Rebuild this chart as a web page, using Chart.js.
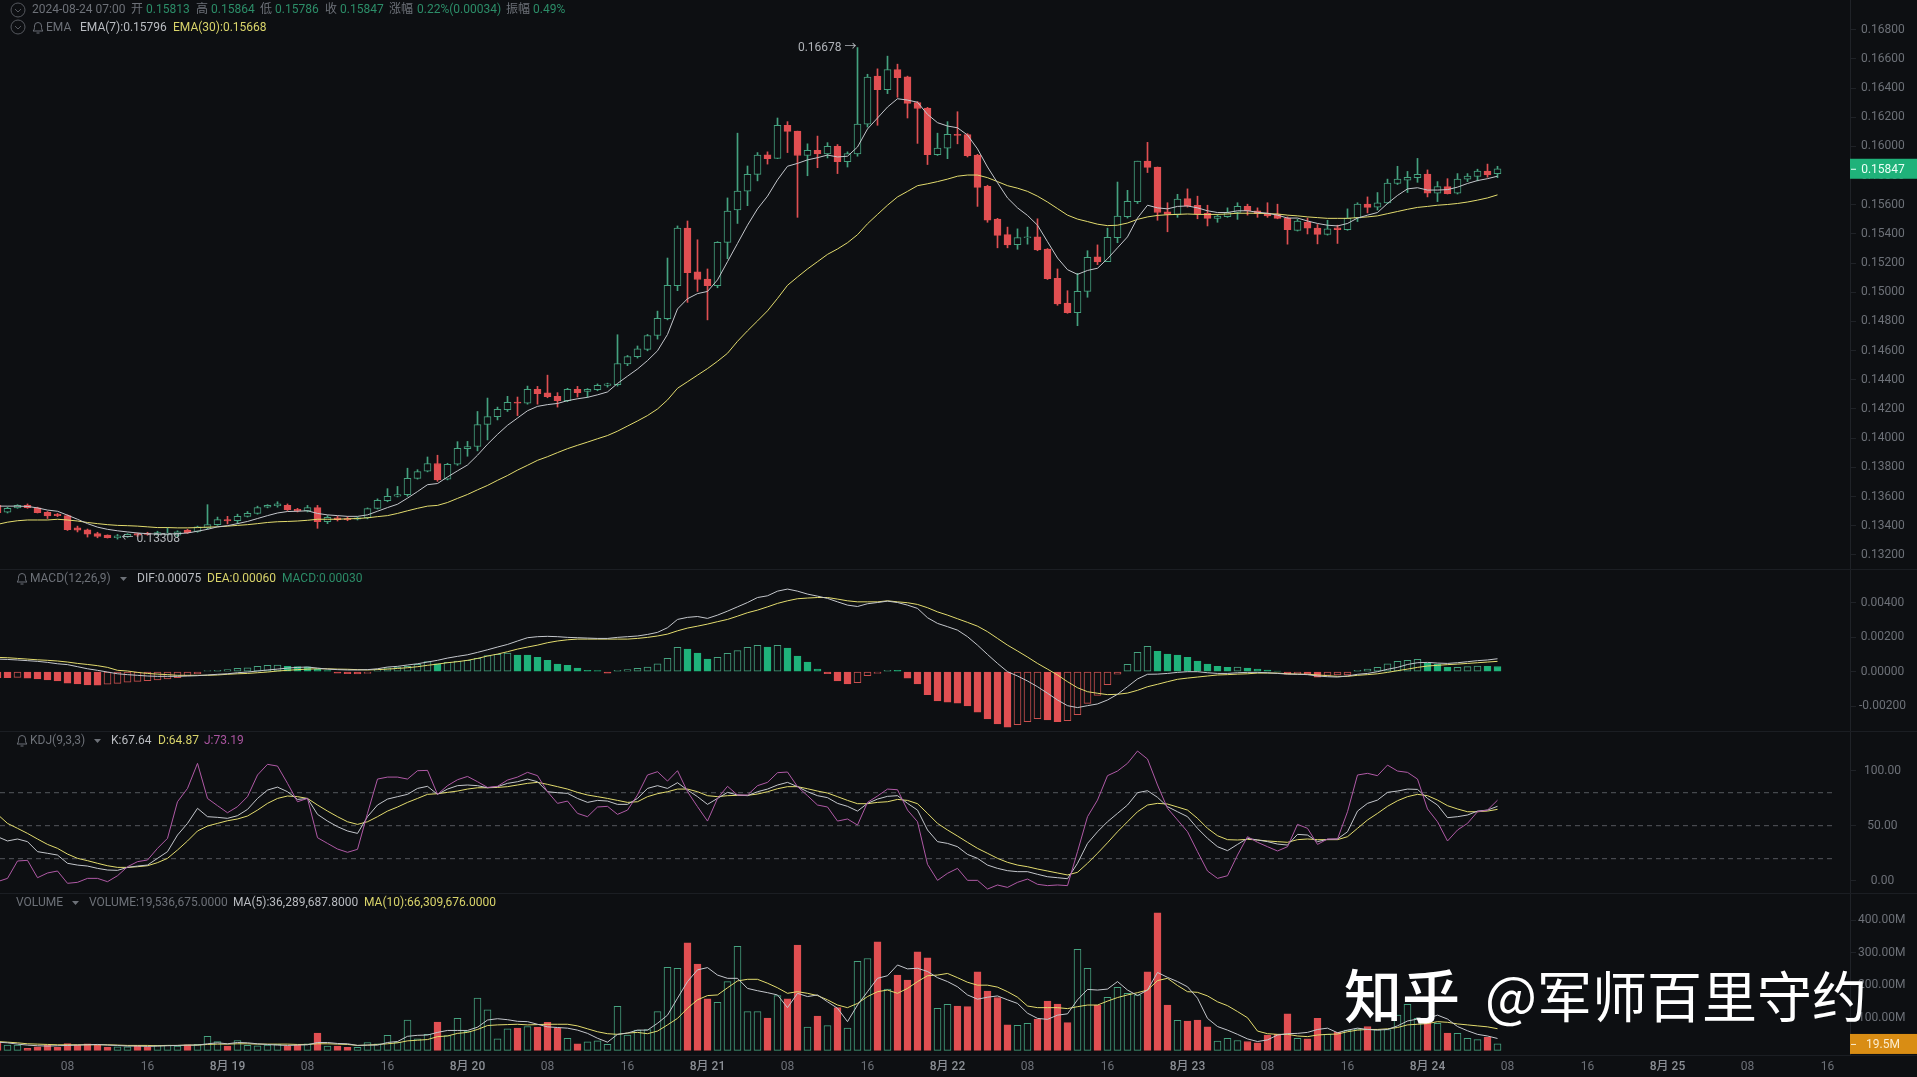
<!DOCTYPE html>
<html>
<head>
<meta charset="utf-8">
<title>K线</title>
<script src="https://cdn.jsdelivr.net/npm/chart.js@4"></script>
<style>
  html, body { margin: 0; background: #0d0f12; overflow: hidden; }
  #page { position: relative; width: 1917px; height: 1077px; font: 12px Roboto, "Noto Sans CJK SC", sans-serif; color: #6d7178; }
  canvas { position: absolute; left: 0; }
  .sep { position: absolute; left: 0; width: 1917px; height: 1px; background: #1b1e23; }
  .t { position: absolute; white-space: nowrap; line-height: 14px; }
  .g { color: #2c8d68; }
  .w { color: #b9bcc1; }
  .y { color: #d9d46a; }
  .p { color: #a9549f; }
  svg { position: absolute; }
  .mark { position: absolute; font-family: "Noto Sans CJK SC", sans-serif; line-height: 76px; color: #fff; white-space: nowrap; z-index: 5; }
</style>
</head>
<body>
<div id="page">
  <canvas id="mainChart" width="1917" height="569" style="top:0"></canvas>
  <canvas id="macdChart" width="1917" height="161" style="top:570px"></canvas>
  <canvas id="kdjChart" width="1917" height="161" style="top:732px"></canvas>
  <canvas id="volChart" width="1917" height="183" style="top:894px"></canvas>
  <div class="sep" style="top:569px"></div>
  <div class="sep" style="top:731px"></div>
  <div class="sep" style="top:893px"></div>
  <div class="sep" style="top:1055px"></div>

  <svg style="left:10px;top:2px" width="16" height="16"><circle cx="8" cy="8" r="7" fill="none" stroke="#55585e"/><path d="M5 7l3 3 3-3" fill="none" stroke="#55585e"/></svg>
  <svg style="left:10px;top:19px" width="16" height="16"><circle cx="8" cy="8" r="7" fill="none" stroke="#55585e"/><path d="M5 7l3 3 3-3" fill="none" stroke="#55585e"/></svg>
  <span class="t" style="left:32px;top:2px">2024-08-24 07:00</span>
  <span class="t" style="left:131px;top:2px">开</span><span class="t g" style="left:146px;top:2px">0.15813</span>
  <span class="t" style="left:196px;top:2px">高</span><span class="t g" style="left:211px;top:2px">0.15864</span>
  <span class="t" style="left:260px;top:2px">低</span><span class="t g" style="left:275px;top:2px">0.15786</span>
  <span class="t" style="left:325px;top:2px">收</span><span class="t g" style="left:340px;top:2px">0.15847</span>
  <span class="t" style="left:389px;top:2px">涨幅</span><span class="t g" style="left:417px;top:2px">0.22%(0.00034)</span>
  <span class="t" style="left:506px;top:2px">振幅</span><span class="t g" style="left:533px;top:2px">0.49%</span>

  <svg style="left:31px;top:20px" width="14" height="14"><path d="M2 11c1.5-1 1.5-3 1.5-5a3.5 3.5 0 0 1 7 0c0 2 0 4 1.5 5zM5.5 13h3" fill="none" stroke="#6d7178"/></svg>
  <span class="t" style="left:46px;top:20px">EMA</span>
  <span class="t w" style="left:80px;top:20px">EMA(7):0.15796</span>
  <span class="t y" style="left:173px;top:20px">EMA(30):0.15668</span>

  <svg style="left:15px;top:571px" width="14" height="14"><path d="M2 11c1.5-1 1.5-3 1.5-5a3.5 3.5 0 0 1 7 0c0 2 0 4 1.5 5zM5.5 13h3" fill="none" stroke="#6d7178"/></svg>
  <span class="t" style="left:30px;top:571px">MACD(12,26,9)</span>
  <svg style="left:120px;top:576px" width="8" height="6"><path d="M0 1h7l-3.5 4z" fill="#6d7178"/></svg>
  <span class="t w" style="left:137px;top:571px">DIF:0.00075</span>
  <span class="t y" style="left:207px;top:571px">DEA:0.00060</span>
  <span class="t g" style="left:282px;top:571px">MACD:0.00030</span>

  <svg style="left:15px;top:733px" width="14" height="14"><path d="M2 11c1.5-1 1.5-3 1.5-5a3.5 3.5 0 0 1 7 0c0 2 0 4 1.5 5zM5.5 13h3" fill="none" stroke="#6d7178"/></svg>
  <span class="t" style="left:30px;top:733px">KDJ(9,3,3)</span>
  <svg style="left:94px;top:738px" width="8" height="6"><path d="M0 1h7l-3.5 4z" fill="#6d7178"/></svg>
  <span class="t w" style="left:111px;top:733px">K:67.64</span>
  <span class="t y" style="left:158px;top:733px">D:64.87</span>
  <span class="t p" style="left:204px;top:733px">J:73.19</span>

  <span class="t" style="left:16px;top:895px">VOLUME</span>
  <svg style="left:72px;top:900px" width="8" height="6"><path d="M0 1h7l-3.5 4z" fill="#6d7178"/></svg>
  <span class="t" style="left:89px;top:895px">VOLUME:19,536,675.0000</span>
  <span class="t w" style="left:233px;top:895px">MA(5):36,289,687.8000</span>
  <span class="t y" style="left:364px;top:895px">MA(10):66,309,676.0000</span>

  <div class="mark" style="left:1344px;top:955px;font-size:58px;font-weight:500">知乎</div>
  <div class="mark" style="left:1485px;top:955px;font-size:55px;font-weight:400">@军师百里守约</div>
</div>

<script>
// candles, one per hour, starting 2024-08-18 01:00
const opens = [
  .13539,.13492,.13522,.13539,.13522,.13492,.13479,.13469,.13385,.13372,
  .13345,.13335,.13317,.13325,.13345,.13350,.13340,.13340,.13335,.13370,
  .13360,.13385,.13407,.13442,.13434,.13464,.13484,.13527,.13537,.13539,
  .13512,.13502,.13524,.13427,.13454,.13449,.13444,.13454,.13519,.13572,
  .13602,.13612,.13724,.13774,.13826,.13719,.13821,.13928,.13943,.14095,
  .14148,.14195,.14247,.14240,.14335,.14310,.14287,.14257,.14335,.14320,
  .14332,.14362,.14367,.14509,.14559,.14609,.14704,.14819,.15046,.15440,
  .15140,.15090,.15046,.15342,.15564,.15694,.15809,.15943,.15918,.16145,
  .16105,.15938,.15973,.15948,.16001,.15896,.15948,.16153,.16482,.16390,
  .16527,.16477,.16300,.16263,.15943,.15988,.16083,.16081,.15941,.15726,
  .15502,.15395,.15327,.15375,.15380,.15297,.15095,.14926,.14861,.15006,
  .15243,.15210,.15375,.15519,.15622,.15899,.15859,.15552,.15534,.15642,
  .15597,.15542,.15507,.15519,.15547,.15589,.15559,.15544,.15534,.15509,
  .15425,.15480,.15440,.15397,.15442,.15430,.15509,.15604,.15584,.15612,
  .15746,.15769,.15786,.15811,.15679,.15724,.15679,.15776,.15794,.15831,.15813
];
const highs = [
  .13544,.13527,.13544,.13549,.13527,.13497,.13484,.13474,.13397,.13377,
  .13355,.13337,.13340,.13345,.13350,.13355,.13362,.13385,.13365,.13375,
  .13397,.13544,.13459,.13464,.13479,.13497,.13534,.13544,.13564,.13549,
  .13519,.13539,.13539,.13469,.13464,.13462,.13459,.13522,.13584,.13654,
  .13669,.13794,.13784,.13871,.13883,.13828,.13976,.13978,.14183,.14275,
  .14213,.14287,.14282,.14357,.14355,.14432,.14312,.14342,.14355,.14340,
  .14372,.14377,.14709,.14567,.14632,.14711,.14871,.15235,.15455,.15489,
  .15360,.15160,.15347,.15647,.16091,.15866,.15958,.15963,.16195,.16170,
  .16105,.16018,.16071,.16026,.16013,.15963,.16678,.16495,.16532,.16619,
  .16564,.16482,.16308,.16268,.16091,.16170,.16238,.16088,.15946,.15734,
  .15507,.15447,.15435,.15447,.15504,.15300,.15160,.15011,.15130,.15285,
  .15325,.15440,.15756,.15699,.15899,.16028,.15859,.15614,.15672,.15709,
  .15659,.15597,.15534,.15579,.15614,.15604,.15579,.15614,.15604,.15517,
  .15500,.15509,.15465,.15494,.15460,.15572,.15614,.15654,.15684,.15776,
  .15864,.15829,.15918,.15839,.15759,.15779,.15814,.15814,.15844,.15879,.15864
];
const lows = [
  .13487,.13487,.13519,.13519,.13487,.13449,.13462,.13367,.13357,.13322,
  .13317,.13315,.13308,.13320,.13325,.13335,.13335,.13335,.13325,.13347,
  .13355,.13377,.13402,.13412,.13414,.13459,.13479,.13522,.13527,.13504,
  .13494,.13494,.13382,.13414,.13432,.13434,.13439,.13447,.13514,.13564,
  .13597,.13602,.13719,.13769,.13704,.13714,.13814,.13876,.13913,.13988,
  .14125,.14183,.14155,.14233,.14233,.14277,.14213,.14250,.14282,.14280,
  .14325,.14350,.14357,.14497,.14549,.14599,.14679,.14811,.15011,.14931,
  .15006,.14811,.15031,.15230,.15472,.15594,.15764,.15879,.15916,.15958,
  .15514,.15799,.15854,.15921,.15814,.15859,.15933,.16133,.16145,.16362,
  .16337,.16195,.16021,.15876,.15938,.15916,.16018,.15928,.15589,.15480,
  .15305,.15305,.15295,.15330,.15285,.15088,.14911,.14856,.14771,.14966,
  .15190,.15210,.15340,.15509,.15609,.15821,.15494,.15415,.15514,.15584,
  .15504,.15455,.15480,.15514,.15500,.15529,.15514,.15514,.15504,.15330,
  .15420,.15400,.15332,.15392,.15335,.15425,.15485,.15544,.15564,.15607,
  .15739,.15684,.15754,.15654,.15622,.15674,.15674,.15759,.15764,.15789,.15786
];
const closes = [
  .13489,.13519,.13539,.13524,.13489,.13467,.13469,.13372,.13370,.13342,
  .13327,.13317,.13330,.13340,.13335,.13340,.13352,.13350,.13357,.13352,
  .13392,.13407,.13442,.13432,.13464,.13484,.13524,.13539,.13549,.13509,
  .13502,.13524,.13427,.13457,.13442,.13442,.13454,.13517,.13574,.13602,
  .13614,.13724,.13771,.13826,.13714,.13821,.13931,.13943,.14093,.14148,
  .14198,.14245,.14240,.14335,.14305,.14285,.14257,.14335,.14312,.14335,
  .14362,.14372,.14512,.14559,.14612,.14704,.14821,.15048,.15440,.15135,
  .15088,.15046,.15342,.15557,.15694,.15809,.15941,.15916,.16145,.16103,
  .15938,.15973,.15948,.16001,.15896,.15951,.16153,.16475,.16390,.16527,
  .16472,.16295,.16260,.15943,.15988,.16083,.16076,.15936,.15719,.15494,
  .15390,.15325,.15375,.15380,.15290,.15093,.14921,.14861,.15006,.15240,
  .15208,.15377,.15522,.15624,.15899,.15856,.15547,.15534,.15639,.15592,
  .15539,.15507,.15522,.15547,.15589,.15559,.15539,.15524,.15507,.15430,
  .15489,.15440,.15397,.15435,.15430,.15509,.15604,.15582,.15614,.15749,
  .15776,.15789,.15809,.15679,.15724,.15677,.15776,.15796,.15831,.15804,.15847
];
const ema7 = [
  .13534,.13534,.13534,.13532,.13522,.13507,.13499,.13472,.13444,.13414,
  .13390,.13375,.13365,.13357,.13350,.13345,.13342,.13342,.13345,.13350,
  .13362,.13375,.13392,.13400,.13414,.13429,.13449,.13469,.13487,.13497,
  .13499,.13502,.13484,.13474,.13469,.13464,.13464,.13474,.13499,.13524,
  .13547,.13589,.13634,.13681,.13689,.13734,.13776,.13816,.13883,.13958,
  .14026,.14088,.14138,.14188,.14218,.14230,.14238,.14257,.14270,.14280,
  .14297,.14317,.14375,.14425,.14474,.14532,.14599,.14711,.14886,.14956,
  .14991,.15006,.15085,.15210,.15335,.15460,.15572,.15659,.15771,.15864,
  .15884,.15908,.15923,.15941,.15928,.15933,.15996,.16120,.16195,.16270,
  .16327,.16318,.16303,.16220,.16163,.16140,.16128,.16078,.15983,.15859,
  .15751,.15647,.15579,.15527,.15460,.15347,.15235,.15155,.15123,.15150,
  .15165,.15230,.15305,.15380,.15509,.15597,.15579,.15572,.15589,.15592,
  .15579,.15559,.15547,.15547,.15559,.15559,.15549,.15542,.15529,.15509,
  .15509,.15489,.15472,.15460,.15455,.15472,.15509,.15529,.15547,.15609,
  .15664,.15709,.15717,.15701,.15701,.15704,.15721,.15746,.15766,.15779,.15796
];
const ema30 = [
  .13409,.13424,.13434,.13439,.13439,.13439,.13444,.13439,.13432,.13422,
  .13414,.13407,.13402,.13400,.13397,.13392,.13387,.13387,.13385,.13385,
  .13387,.13390,.13392,.13397,.13402,.13407,.13414,.13422,.13427,.13429,
  .13432,.13437,.13444,.13444,.13444,.13447,.13449,.13454,.13462,.13469,
  .13484,.13502,.13519,.13534,.13539,.13559,.13587,.13614,.13646,.13676,
  .13711,.13744,.13781,.13814,.13848,.13873,.13901,.13928,.13951,.13973,
  .13996,.14018,.14048,.14083,.14118,.14155,.14200,.14262,.14342,.14387,
  .14432,.14477,.14527,.14582,.14664,.14736,.14804,.14873,.14958,.15048,
  .15105,.15160,.15210,.15260,.15297,.15340,.15395,.15470,.15534,.15597,
  .15654,.15692,.15731,.15744,.15759,.15776,.15796,.15804,.15804,.15786,
  .15759,.15731,.15714,.15692,.15659,.15619,.15574,.15529,.15502,.15485,
  .15467,.15457,.15460,.15475,.15500,.15517,.15527,.15532,.15534,.15537,
  .15534,.15534,.15534,.15537,.15542,.15542,.15542,.15539,.15537,.15529,
  .15524,.15517,.15512,.15507,.15507,.15507,.15512,.15517,.15524,.15539,
  .15554,.15569,.15582,.15589,.15597,.15602,.15609,.15619,.15632,.15647,.15668
];
const macdHist = [
  -.00035,-.00035,-.00033,-.00037,-.00042,-.00048,-.00054,-.00066,-.00071,-.00077,
  -.00078,-.00073,-.00068,-.00060,-.00056,-.00052,-.00048,-.00042,-.00035,-.00025,
  -.00012,.00006,.00008,.00012,.00019,.00023,.00031,.00037,.00038,.00031,
  .00029,.00028,.00014,.00006,-.00008,-.00012,-.00013,-.00010,.00012,.00023,
  .00027,.00031,.00042,.00058,.00046,.00054,.00062,.00066,.00077,.00093,
  .00100,.00108,.00097,.00096,.00083,.00066,.00044,.00037,.00021,.00008,
  .00007,-.00008,.00008,.00013,.00019,.00027,.00046,.00077,.00141,.00131,
  .00108,.00073,.00083,.00106,.00122,.00141,.00153,.00143,.00153,.00137,
  .00091,.00056,.00015,-.00012,-.00054,-.00071,-.00064,-.00023,-.00010,.00008,
  .00008,-.00037,-.00071,-.00133,-.00170,-.00176,-.00182,-.00199,-.00234,-.00274,
  -.00303,-.00321,-.00307,-.00290,-.00272,-.00280,-.00290,-.00284,-.00249,-.00184,
  -.00137,-.00075,-.00015,.00042,.00112,.00147,.00118,.00102,.00097,.00083,
  .00062,.00044,.00031,.00025,.00027,.00021,.00015,.00010,.00004,-.00014,
  -.00013,-.00015,-.00031,-.00021,-.00019,-.00018,.00008,.00015,.00025,.00046,
  .00060,.00066,.00071,.00048,.00044,.00025,.00026,.00029,.00033,.00031,.00030
];
const dif = [
  .00073,.00071,.00068,.00064,.00060,.00054,.00046,.00041,.00029,.00017,
  .00008,-.00002,-.00012,-.00017,-.00021,-.00025,-.00027,-.00027,-.00027,-.00025,
  -.00023,-.00019,-.00015,-.00012,-.00006,-.00002,.00004,.00010,.00015,.00021,
  .00025,.00027,.00021,.00015,.00012,.00010,.00010,.00012,.00017,.00027,
  .00031,.00039,.00046,.00056,.00066,.00079,.00089,.00098,.00112,.00127,
  .00143,.00158,.00178,.00197,.00203,.00205,.00203,.00199,.00197,.00195,
  .00193,.00193,.00199,.00203,.00207,.00216,.00228,.00255,.00303,.00315,
  .00320,.00309,.00328,.00351,.00376,.00401,.00430,.00440,.00467,.00479,
  .00467,.00450,.00438,.00425,.00405,.00386,.00378,.00394,.00401,.00409,
  .00401,.00386,.00367,.00313,.00280,.00261,.00241,.00203,.00154,.00100,
  .00048,.00000,-.00025,-.00054,-.00087,-.00125,-.00164,-.00197,-.00208,-.00197,
  -.00187,-.00164,-.00131,-.00087,-.00042,-.00015,-.00014,-.00010,-.00004,.00000,
  .00000,-.00006,-.00010,-.00010,-.00006,-.00004,-.00004,-.00006,-.00010,-.00014,
  -.00015,-.00017,-.00025,-.00029,-.00031,-.00025,-.00015,-.00010,.00000,.00014,
  .00025,.00042,.00052,.00054,.00050,.00048,.00052,.00058,.00064,.00068,.00075
];
const dea = [
  .00083,.00081,.00077,.00073,.00069,.00066,.00062,.00056,.00048,.00042,
  .00035,.00025,.00008,.00004,-.00004,-.00010,-.00014,-.00017,-.00021,-.00021,
  -.00021,-.00021,-.00019,-.00015,-.00012,-.00010,-.00006,-.00002,.00004,.00008,
  .00012,.00015,.00017,.00017,.00015,.00014,.00012,.00010,.00012,.00015,
  .00019,.00023,.00029,.00037,.00044,.00052,.00058,.00066,.00077,.00091,
  .00102,.00116,.00131,.00143,.00154,.00168,.00178,.00185,.00189,.00189,
  .00189,.00189,.00189,.00189,.00193,.00199,.00207,.00218,.00237,.00253,
  .00264,.00276,.00290,.00303,.00322,.00342,.00357,.00376,.00396,.00411,
  .00423,.00427,.00430,.00430,.00421,.00411,.00405,.00405,.00405,.00411,
  .00405,.00400,.00390,.00371,.00347,.00328,.00307,.00286,.00264,.00232,
  .00193,.00154,.00120,.00085,.00048,.00015,-.00019,-.00058,-.00093,-.00116,
  -.00125,-.00133,-.00131,-.00124,-.00108,-.00087,-.00073,-.00058,-.00044,-.00037,
  -.00031,-.00025,-.00019,-.00017,-.00014,-.00012,-.00008,-.00008,-.00008,-.00012,
  -.00014,-.00015,-.00019,-.00023,-.00027,-.00027,-.00021,-.00017,-.00012,-.00004,
  .00006,.00015,.00025,.00033,.00037,.00041,.00044,.00048,.00052,.00056,.00060
];
const kLine = [
  40.0,36.1,37.9,35.5,26.4,24.9,23.3,15.8,14.2,13.3,
  11.2,9.7,9.4,12.1,13.3,14.2,20.3,26.4,41.5,52.1,
  65.8,58.2,57.6,56.7,59.1,64.8,74.8,82.4,85.1,80.9,
  73.9,74.8,60.3,54.2,49.1,45.2,43.0,58.2,68.8,74.2,
  76.4,78.5,83.9,85.8,78.5,83.3,86.4,87.0,86.4,84.5,
  85.5,88.5,90.0,92.4,90.0,80.9,80.0,79.4,74.8,71.2,
  73.0,72.4,69.4,69.4,74.8,
  83.9,86.4,83.9,89.1,82.4,76.4,69.4,74.8,80.3,77.9,
  77.3,80.9,83.3,87.0,89.4,85.5,80.9,77.3,75.5,70.3,
  67.6,63.3,70.3,74.2,76.7,77.3,70.3,64.2,46.1,35.5,
  33.9,30.9,23.9,20.3,14.2,11.2,9.1,8.2,8.2,5.8,
  3.6,2.7,1.8,15.8,33.9,44.5,53.6,61.2,68.8,80.0,
  81.8,75.8,67.3,62.7,58.2,47.6,38.5,30.9,27.3,33.0,
  38.5,37.0,35.5,33.3,
  32.4,42.1,41.5,35.5,37.6,37.9,44.5,63.3,70.3,73.3,
  80.3,81.5,83.3,83.0,74.8,68.8,57.3,58.2,59.7,63.3,64.2,67.64
];
const dLine = [
  60.3,52.1,47.6,43.0,37.9,33.0,29.4,24.2,20.3,18.2,
  15.8,13.6,12.1,12.1,12.7,13.6,16.4,20.3,27.9,36.1,
  45.2,49.7,52.1,54.5,56.1,58.8,64.2,70.3,74.8,77.0,
  76.4,74.8,68.8,63.3,58.2,53.6,51.2,53.6,58.2,63.3,
  67.0,71.2,74.8,78.5,79.1,80.3,81.5,83.3,84.5,84.5,
  84.8,85.5,87.0,88.5,89.4,87.6,85.5,83.3,80.3,77.9,
  76.4,74.8,73.0,71.2,71.8,
  76.4,79.1,80.9,83.3,83.3,80.9,77.3,76.4,77.3,77.6,
  77.6,78.8,80.9,83.6,85.5,85.5,83.6,81.5,79.7,76.4,
  73.0,70.0,70.0,71.2,71.8,73.9,73.0,70.0,61.2,52.1,
  46.1,40.6,34.9,29.4,24.9,20.3,16.7,14.2,12.7,10.6,
  8.8,7.0,5.2,7.6,15.8,24.9,34.5,44.5,53.6,62.7,
  68.8,70.3,69.7,67.0,64.2,56.7,47.6,40.9,37.3,37.0,
  37.6,37.0,36.1,35.5,
  34.9,37.3,37.9,37.3,37.3,37.3,40.0,47.6,55.2,61.2,
  67.6,72.7,76.4,78.5,77.3,73.3,68.2,65.2,62.7,62.7,63.3,64.87
];
const jLine = [
  -0.9,2.1,17.9,18.5,2.7,7.0,8.8,-2.4,-1.5,2.1,
  2.1,-0.9,4.5,12.7,17.3,18.8,29.4,38.5,71.8,83.9,
  106.7,74.8,68.2,61.8,67.3,76.4,96.1,105.8,104.2,88.5,
  71.8,74.8,39.1,33.9,28.8,25.8,28.5,61.2,92.4,94.2,
  94.2,92.4,100.0,100.3,78.5,86.4,91.8,94.8,90.0,84.8,
  85.8,91.5,94.2,98.5,95.5,80.9,70.3,72.4,61.2,58.2,
  67.0,67.6,60.3,64.2,77.9,
  96.1,99.1,90.6,100.0,80.9,67.3,54.2,74.8,85.8,77.9,
  77.9,86.4,89.4,98.2,98.8,85.5,77.3,68.8,67.0,54.2,
  56.1,50.6,71.2,77.0,83.3,82.7,64.2,53.6,14.9,0.3,
  6.7,11.2,0.3,0.3,-7.6,-3.9,-6.1,-1.5,1.5,-3.3,
  -4.5,-3.9,-4.5,26.4,58.2,73.3,95.5,99.7,106.7,117.9,
  110.6,87.0,65.8,55.2,44.5,26.4,8.8,2.1,4.5,23.3,
  40.0,34.9,30.9,27.0,
  30.9,51.2,47.6,33.0,37.9,37.9,62.7,96.1,97.6,95.5,
  105.1,99.7,98.5,92.4,65.2,53.6,36.1,46.1,52.1,62.7,64.2,73.19
];
// volume in millions
const volumes = [
  25,16,16,6,11,16,9,21,16,20,
  16,10,11,11,14,11,15,16,13,17,
  18,43,27,13,30,15,14,16,18,13,
  16,20,53,13,13,9,9,24,20,46,
  25,93,35,49,87,45,98,59,160,124,
  35,66,68,73,71,86,68,37,20,26,
  29,18,135,47,62,
  64,119,255,252,330,265,158,147,211,319,
  119,119,99,168,158,323,71,105,76,131,
  68,273,282,333,188,231,216,302,284,129,
  141,136,134,241,182,162,78,77,83,96,
  151,142,85,310,252,139,163,193,175,170,
  241,422,139,92,90,93,72,28,37,30,
  27,23,47,49,
  112,37,35,98,49,55,62,66,73,64,
  64,108,141,98,86,83,53,52,37,33,41,19.54
];
const volMa5 = [
  25,23,19,16,14,13,14,15,16,17,
  18,16,15,13,13,12,13,14,15,16,
  16,20,23,20,24,23,20,18,16,15,
  16,17,24,24,21,20,15,16,16,24,
  27,43,46,47,55,61,61,61,71,93,
  97,94,89,88,80,72,70,68,62,52,
  37,25,49,53,62,
  62,83,108,160,211,247,254,231,221,221,
  190,183,177,170,131,175,165,170,149,129,
  88,139,180,221,229,262,250,252,242,223,
  211,195,170,157,163,167,155,144,114,98,
  95,108,112,155,187,185,188,211,185,168,
  185,239,224,211,195,160,98,73,62,49,
  35,27,32,47,
  51,52,55,64,68,54,62,68,64,62,
  64,75,90,96,98,108,96,73,60,49,44,36.29
];
const volMa10 = [
  27,25,23,20,19,18,17,17,17,17,
  17,17,16,15,15,15,14,15,15,16,
  16,18,19,19,20,20,19,19,19,19,
  18,18,20,20,19,18,15,16,18,20,
  23,29,31,33,42,44,52,55,64,76,
  78,79,80,78,79,80,80,80,75,66,
  57,51,49,53,55,
  51,59,78,98,129,155,168,170,192,213,
  218,218,206,192,175,180,175,168,155,139,
  131,144,165,180,185,175,190,211,229,231,
  236,223,209,200,200,194,180,163,136,131,
  131,131,128,134,139,139,151,162,170,177,
  185,214,221,199,180,178,167,149,137,119,
  100,59,51,49,
  49,44,42,47,49,50,57,62,64,64,
  66,70,78,80,82,88,86,81,78,75,72,66.31
];

const priceTicks = [.132,.134,.136,.138,.14,.142,.144,.146,.148,.15,.152,.154,.156,.158,.16,.162,.164,.166,.168];
const macdTicks = [-.002,0,.002,.004];
const kdjTicks = [0,50,100];
const kdjLevels = [20,50,80];
const volTicks = [100,200,300,400];
// hours since 2024-08-18 00:00
const xTickHours = [8,16,24,32,40,48,56,64,72,80,88,96,104,112,120,128,136,144,152,160,168,176,184];
const xTickLabels = ['08','16','8月 19','08','16','8月 20','08','16','8月 21','08','16','8月 22','08','16','8月 23','08','16','8月 24','08','16','8月 25','08','16'];
const highPoint = 0.16678;
const lowPoint = 0.13308;

const hours = closes.map((c, i) => i + 1);
const bg = '#0d0f12', green = '#45a27f', greenFill = '#1fb27a', red = '#e04f52', redEdge = '#c9504f';
const white = '#c4c7cc', yellow = '#e3dc6e', purple = '#b05aa6', textGray = '#6d7178';
const fontFamily = 'Roboto, "Noto Sans CJK SC", sans-serif';
const xMin = 1.25, xMax = 186.25;

const pts = arr => arr.map((y, i) => ({ x: hours[i], y: y }));
const isDown = closes.map((c, i) => c < opens[i]);

function lineSet(arr, color) {
  return { type: 'line', data: pts(arr), borderColor: color, borderWidth: 1, pointRadius: 0, tension: 0, order: 1 };
}

// hollow when the bar grew compared with the one before
const histRising = macdHist.map((v, i) => i > 0 && v > macdHist[i - 1]);

function makeChart(id, datasets, yMin, yMax, yTicks, tickFmt, padding, extra) {
  const withX = !!(extra && extra.showX);
  return new Chart(document.getElementById(id), {
    type: 'bar',
    data: { datasets: datasets },
    options: {
      responsive: false,
      animation: false,
      devicePixelRatio: 1,
      layout: { padding: 0 },
      plugins: { legend: { display: false }, tooltip: { enabled: false } },
      scales: {
        x: {
          type: 'linear',
          offset: false,
          min: xMin,
          max: xMax,
          display: withX,
          grid: { display: false, drawTicks: false },
          border: { display: false },
          afterBuildTicks: s => { s.ticks = xTickHours.map(v => ({ value: v })); },
          afterFit: s => { s.height = withX ? 22 : 0; s.paddingLeft = 0; s.paddingRight = 0; },
          ticks: {
            autoSkip: false,
            maxRotation: 0,
            padding: 5,
            callback: (v, i) => xTickLabels[i],
            color: c => xTickLabels[c.index] && xTickLabels[c.index].length > 2 ? '#8b8f95' : textGray,
            font: c => ({ family: fontFamily, size: 12, weight: xTickLabels[c.index] && xTickLabels[c.index].length > 2 ? '500' : '400' })
          }
        },
        y: {
          position: 'right',
          min: yMin,
          max: yMax,
          afterBuildTicks: s => { s.ticks = yTicks.map(v => ({ value: v })); },
          afterFit: s => { s.width = 67; s.paddingTop = 0; s.paddingBottom = 0; },
          grid: { drawOnChartArea: false, drawTicks: true, tickLength: 6, color: '#1f2227' },
          border: { display: true, color: '#1f2227' },
          ticks: {
            autoSkip: false,
            crossAlign: 'center',
            padding: padding,
            color: textGray,
            font: { family: fontFamily, size: 12 },
            callback: tickFmt
          }
        }
      }
    },
    plugins: extra && extra.plugin ? [extra.plugin] : []
  });
}

// ---- price panel
const wicks = { data: hours.map((h, i) => ({ x: h, y: [lows[i], highs[i]] })), barThickness: 1, grouped: false, order: 3,
  backgroundColor: isDown.map(d => d ? red : green), borderWidth: 0 };
const bodies = { data: hours.map((h, i) => ({ x: h, y: [opens[i], closes[i]] })), barThickness: 7, grouped: false, order: 2,
  backgroundColor: isDown.map(d => d ? red : bg), borderColor: isDown.map(d => d ? red : green), borderWidth: 1, borderSkipped: false };

function tag(ctx, chart, y, color, label, textColor) {
  const x = chart.chartArea.right;
  ctx.save();
  ctx.fillStyle = color;
  ctx.fillRect(x, y - 10, 67, 20);
  ctx.fillStyle = textColor;
  ctx.fillRect(x + 1, y, 5, 1);
  ctx.font = '12px ' + fontFamily;
  ctx.textAlign = 'center';
  ctx.textBaseline = 'middle';
  ctx.fillText(label, x + 33, y + 1);
  ctx.restore();
}

const priceMarks = {
  id: 'priceMarks',
  afterDraw(chart) {
    const ctx = chart.ctx, sx = chart.scales.x, sy = chart.scales.y;
    ctx.save();
    ctx.font = '12px ' + fontFamily;
    ctx.fillStyle = '#b0b3b8';
    ctx.textBaseline = 'middle';
    ctx.textAlign = 'right';
    ctx.fillText(highPoint.toFixed(5) + ' →', sx.getPixelForValue(hours[highs.indexOf(highPoint)]) - 1, sy.getPixelForValue(highPoint));
    ctx.textAlign = 'left';
    ctx.fillText('← ' + lowPoint.toFixed(5), sx.getPixelForValue(hours[lows.indexOf(lowPoint)]) + 4, sy.getPixelForValue(lowPoint));
    ctx.restore();
    const last = closes[closes.length - 1];
    tag(ctx, chart, sy.getPixelForValue(last), '#1fb27a', last.toFixed(5), '#eafff6');
  }
};

makeChart('mainChart', [wicks, bodies, lineSet(ema7, white), lineSet(ema30, yellow)],
  .13103, .17004, priceTicks, v => v.toFixed(5), 5, { plugin: priceMarks });

// ---- MACD panel
const histBars = { data: pts(macdHist), barThickness: 7, grouped: false, order: 2, borderWidth: 1, borderSkipped: false,
  backgroundColor: macdHist.map((v, i) => histRising[i] ? bg : (v < 0 ? red : greenFill)),
  borderColor: macdHist.map((v, i) => histRising[i] ? (v < 0 ? redEdge : green) : (v < 0 ? red : greenFill)) };
makeChart('macdChart', [histBars, lineSet(dif, white), lineSet(dea, yellow)],
  -.003438, .005896, macdTicks, v => v.toFixed(5), 3);

// ---- KDJ panel
const levelSets = kdjLevels.map(l => ({ type: 'line', data: [{ x: xMin, y: l }, { x: 184.5, y: l }], borderColor: '#55585e', borderWidth: 1, borderDash: [5, 4], pointRadius: 0, order: 4 }));
makeChart('kdjChart', levelSets.concat([lineSet(jLine, purple), lineSet(kLine, white), lineSet(dLine, yellow)]),
  -11.2, 135.2, kdjTicks, v => v.toFixed(2), 8);

// ---- volume panel
const volBars = { data: pts(volumes), barThickness: 7, grouped: false, order: 2, borderWidth: 1, borderSkipped: false,
  backgroundColor: isDown.map(d => d ? red : bg), borderColor: isDown.map(d => d ? red : green) };
const volMarks = {
  id: 'volMarks',
  afterDraw(chart) {
    const last = volumes[volumes.length - 1];
    tag(chart.ctx, chart, chart.scales.y.getPixelForValue(last), '#d98d14', last.toFixed(1) + 'M', '#fbeccf');
  }
};
makeChart('volChart', [volBars, lineSet(volMa5, white), lineSet(volMa10, yellow)],
  -14.4, 479.9, volTicks, v => v.toFixed(2) + 'M', 2, { showX: true, plugin: volMarks });
</script>
</body>
</html>
